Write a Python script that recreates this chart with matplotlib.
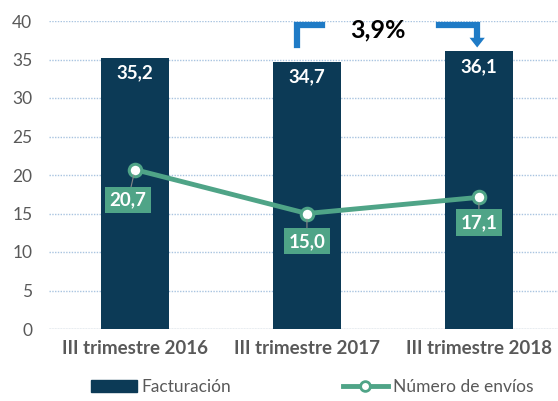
import matplotlib.pyplot as plt
from matplotlib.lines import Line2D
from matplotlib.patches import Patch

plt.rcParams['font.family'] = ['Lato', 'DejaVu Sans']

categories = ["III trimestre 2016", "III trimestre 2017", "III trimestre 2018"]
facturacion = [35.2, 34.7, 36.1]
envios = [20.7, 15.0, 17.1]
variacion = "3,9%"

bar_color = "#0C3A56"
line_color = "#4FA487"
grey = "#595959"

fig = plt.figure(figsize=(5.58, 4.01), dpi=100)
ax = fig.add_axes([49 / 558, 72 / 401, 1 - 49 / 558, 308 / 401])

x = list(range(len(categories)))
ax.bar(x, facturacion, width=0.4, color=bar_color, zorder=2)
ax.plot(x, envios, color=line_color, lw=3.5, marker="o", ms=9,
        mfc="white", mec=line_color, mew=2.2, zorder=4)

for xi, v in zip(x, facturacion):
    ax.annotate(f"{v:.1f}".replace(".", ","), (xi, v), xytext=(0, -11),
                textcoords="offset points", ha="center", va="center",
                color="white", fontsize=13.5, fontweight="bold", zorder=5)

offsets = [(-5, -22), (0, -20), (0, -18)]
for xi, v, off in zip(x, envios, offsets):
    ax.annotate(f"{v:.1f}".replace(".", ","), (xi, v), xytext=off,
                textcoords="offset points", ha="center", va="center",
                color="white", fontsize=13.5, fontweight="bold", zorder=6,
                bbox=dict(boxstyle="square,pad=0.25", fc=line_color, ec="none"),
                arrowprops=dict(arrowstyle="-", color="#888888", lw=0.8,
                                shrinkA=0, shrinkB=4))

ax.set_ylim(0, 40)
ax.set_xlim(-0.5, 2.46)
ax.set_yticks(range(0, 41, 5))
ax.set_xticks(x)
ax.set_xticklabels(categories, fontsize=13.5, fontweight="bold", color=grey)
ax.tick_params(axis="y", labelsize=12.5, labelcolor=grey, length=0, pad=12)
ax.tick_params(axis="x", length=0, pad=8)
ax.yaxis.grid(True, color="#A9C4E0", lw=1, ls=(0, (1, 1)), zorder=0)
for s in ax.spines.values():
    s.set_visible(False)
ax.axhline(0, color="#D9D9D9", lw=1, zorder=1)

# flecha de variación
arrow_blue = "#1F7BC6"
ax.plot([0.94, 0.94, 1.09], [36.9, 39.5, 39.5], color=arrow_blue, lw=4.5,
        solid_joinstyle="miter", clip_on=False, zorder=3)
ax.plot([1.77, 1.99, 1.99], [39.5, 39.5, 37.6], color=arrow_blue, lw=4.5,
        solid_joinstyle="miter", clip_on=False, zorder=3)
ax.annotate("", xy=(1.99, 36.2), xytext=(1.99, 37.9),
            arrowprops=dict(arrowstyle="-|>,head_width=0.55,head_length=0.7",
                            color=arrow_blue, lw=0), zorder=3,
            annotation_clip=False)
ax.text(1.41, 38.9, variacion, ha="center", va="center", fontsize=18,
        fontweight="bold", color="black")

handles = [Patch(color=bar_color, label="Facturación"),
           Line2D([0], [0], color=line_color, lw=3.5, marker="o", ms=7,
                  mfc="white", mec=line_color, mew=2, label="Número de envíos")]
fig.legend(handles=handles, loc="center", bbox_to_anchor=(0.56, 0.035),
           ncol=2, frameon=False, fontsize=12.5, labelcolor=grey,
           columnspacing=6.4, handlelength=2.6, handletextpad=0.3)

fig.savefig("out.png", dpi=100)
